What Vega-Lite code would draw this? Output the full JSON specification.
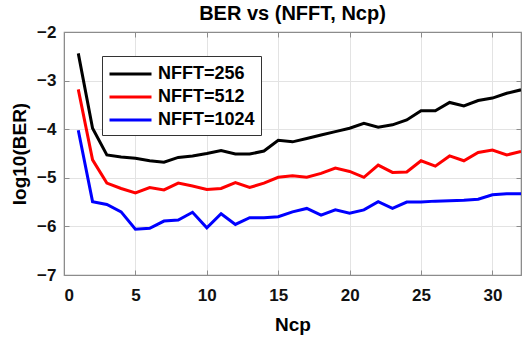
{
  "$schema": "https://vega.github.io/schema/vega-lite/v6.json",
  "width": 457,
  "height": 243,
  "autosize": "none",
  "padding": {"left": 64, "top": 32, "right": 8, "bottom": 66},
  "background": "white",
  "title": {
    "text": "BER vs (NFFT, Ncp)",
    "font": "Liberation Sans",
    "fontSize": 20,
    "fontWeight": "bold",
    "color": "black",
    "offset": -1
  },
  "config": {
    "view": {"stroke": "#8c8c8c", "strokeWidth": 1.2},
    "axis": {
      "labelFont": "Liberation Sans",
      "labelFontSize": 17,
      "labelFontWeight": "bold",
      "labelColor": "#111",
      "titleFont": "Liberation Sans",
      "titleFontSize": 19,
      "titleFontWeight": "bold",
      "titleColor": "black",
      "domainColor": "#8c8c8c",
      "tickColor": "#8c8c8c",
      "gridColor": "#e3e3e3",
      "tickSize": -5
    }
  },
  "data": {
    "values": [
      {"Ncp": 1, "s": "NFFT=256", "v": -2.44}, {"Ncp": 2, "s": "NFFT=256", "v": -3.98}, {"Ncp": 3, "s": "NFFT=256", "v": -4.53}, {"Ncp": 4, "s": "NFFT=256", "v": -4.57},
      {"Ncp": 5, "s": "NFFT=256", "v": -4.6}, {"Ncp": 6, "s": "NFFT=256", "v": -4.65}, {"Ncp": 7, "s": "NFFT=256", "v": -4.68}, {"Ncp": 8, "s": "NFFT=256", "v": -4.58},
      {"Ncp": 9, "s": "NFFT=256", "v": -4.55}, {"Ncp": 10, "s": "NFFT=256", "v": -4.5}, {"Ncp": 11, "s": "NFFT=256", "v": -4.44}, {"Ncp": 12, "s": "NFFT=256", "v": -4.51},
      {"Ncp": 13, "s": "NFFT=256", "v": -4.51}, {"Ncp": 14, "s": "NFFT=256", "v": -4.45}, {"Ncp": 15, "s": "NFFT=256", "v": -4.23}, {"Ncp": 16, "s": "NFFT=256", "v": -4.26},
      {"Ncp": 17, "s": "NFFT=256", "v": -4.19}, {"Ncp": 18, "s": "NFFT=256", "v": -4.12}, {"Ncp": 19, "s": "NFFT=256", "v": -4.05}, {"Ncp": 20, "s": "NFFT=256", "v": -3.98},
      {"Ncp": 21, "s": "NFFT=256", "v": -3.88}, {"Ncp": 22, "s": "NFFT=256", "v": -3.96}, {"Ncp": 23, "s": "NFFT=256", "v": -3.91}, {"Ncp": 24, "s": "NFFT=256", "v": -3.81},
      {"Ncp": 25, "s": "NFFT=256", "v": -3.62}, {"Ncp": 26, "s": "NFFT=256", "v": -3.62}, {"Ncp": 27, "s": "NFFT=256", "v": -3.45}, {"Ncp": 28, "s": "NFFT=256", "v": -3.52},
      {"Ncp": 29, "s": "NFFT=256", "v": -3.41}, {"Ncp": 30, "s": "NFFT=256", "v": -3.36}, {"Ncp": 31, "s": "NFFT=256", "v": -3.26}, {"Ncp": 32, "s": "NFFT=256", "v": -3.19},

      {"Ncp": 1, "s": "NFFT=512", "v": -3.18}, {"Ncp": 2, "s": "NFFT=512", "v": -4.63}, {"Ncp": 3, "s": "NFFT=512", "v": -5.11}, {"Ncp": 4, "s": "NFFT=512", "v": -5.22},
      {"Ncp": 5, "s": "NFFT=512", "v": -5.31}, {"Ncp": 6, "s": "NFFT=512", "v": -5.2}, {"Ncp": 7, "s": "NFFT=512", "v": -5.25}, {"Ncp": 8, "s": "NFFT=512", "v": -5.11},
      {"Ncp": 9, "s": "NFFT=512", "v": -5.17}, {"Ncp": 10, "s": "NFFT=512", "v": -5.24}, {"Ncp": 11, "s": "NFFT=512", "v": -5.22}, {"Ncp": 12, "s": "NFFT=512", "v": -5.1},
      {"Ncp": 13, "s": "NFFT=512", "v": -5.2}, {"Ncp": 14, "s": "NFFT=512", "v": -5.11}, {"Ncp": 15, "s": "NFFT=512", "v": -4.99}, {"Ncp": 16, "s": "NFFT=512", "v": -4.96},
      {"Ncp": 17, "s": "NFFT=512", "v": -4.99}, {"Ncp": 18, "s": "NFFT=512", "v": -4.91}, {"Ncp": 19, "s": "NFFT=512", "v": -4.8}, {"Ncp": 20, "s": "NFFT=512", "v": -4.87},
      {"Ncp": 21, "s": "NFFT=512", "v": -4.99}, {"Ncp": 22, "s": "NFFT=512", "v": -4.74}, {"Ncp": 23, "s": "NFFT=512", "v": -4.89}, {"Ncp": 24, "s": "NFFT=512", "v": -4.88},
      {"Ncp": 25, "s": "NFFT=512", "v": -4.65}, {"Ncp": 26, "s": "NFFT=512", "v": -4.76}, {"Ncp": 27, "s": "NFFT=512", "v": -4.55}, {"Ncp": 28, "s": "NFFT=512", "v": -4.65},
      {"Ncp": 29, "s": "NFFT=512", "v": -4.48}, {"Ncp": 30, "s": "NFFT=512", "v": -4.43}, {"Ncp": 31, "s": "NFFT=512", "v": -4.53}, {"Ncp": 32, "s": "NFFT=512", "v": -4.46},

      {"Ncp": 1, "s": "NFFT=1024", "v": -4.02}, {"Ncp": 2, "s": "NFFT=1024", "v": -5.49}, {"Ncp": 3, "s": "NFFT=1024", "v": -5.55}, {"Ncp": 4, "s": "NFFT=1024", "v": -5.7},
      {"Ncp": 5, "s": "NFFT=1024", "v": -6.06}, {"Ncp": 6, "s": "NFFT=1024", "v": -6.04}, {"Ncp": 7, "s": "NFFT=1024", "v": -5.89}, {"Ncp": 8, "s": "NFFT=1024", "v": -5.87},
      {"Ncp": 9, "s": "NFFT=1024", "v": -5.71}, {"Ncp": 10, "s": "NFFT=1024", "v": -6.03}, {"Ncp": 11, "s": "NFFT=1024", "v": -5.74}, {"Ncp": 12, "s": "NFFT=1024", "v": -5.96},
      {"Ncp": 13, "s": "NFFT=1024", "v": -5.82}, {"Ncp": 14, "s": "NFFT=1024", "v": -5.82}, {"Ncp": 15, "s": "NFFT=1024", "v": -5.8}, {"Ncp": 16, "s": "NFFT=1024", "v": -5.7},
      {"Ncp": 17, "s": "NFFT=1024", "v": -5.63}, {"Ncp": 18, "s": "NFFT=1024", "v": -5.77}, {"Ncp": 19, "s": "NFFT=1024", "v": -5.66}, {"Ncp": 20, "s": "NFFT=1024", "v": -5.73},
      {"Ncp": 21, "s": "NFFT=1024", "v": -5.66}, {"Ncp": 22, "s": "NFFT=1024", "v": -5.49}, {"Ncp": 23, "s": "NFFT=1024", "v": -5.63}, {"Ncp": 24, "s": "NFFT=1024", "v": -5.5},
      {"Ncp": 25, "s": "NFFT=1024", "v": -5.5}, {"Ncp": 26, "s": "NFFT=1024", "v": -5.48}, {"Ncp": 27, "s": "NFFT=1024", "v": -5.47}, {"Ncp": 28, "s": "NFFT=1024", "v": -5.46},
      {"Ncp": 29, "s": "NFFT=1024", "v": -5.44}, {"Ncp": 30, "s": "NFFT=1024", "v": -5.35}, {"Ncp": 31, "s": "NFFT=1024", "v": -5.33}, {"Ncp": 32, "s": "NFFT=1024", "v": -5.33}
    ]
  },
  "resolve": {"axis": {"x": "independent", "y": "independent"}},
  "layer": [
    {
      "mark": {"type": "line", "strokeWidth": 3, "clip": true},
      "encoding": {
        "x": {
          "field": "Ncp", "type": "quantitative",
          "scale": {"domain": [0, 32], "nice": false, "zero": false},
          "axis": {"title": "Ncp", "values": [0, 5, 10, 15, 20, 25, 30], "labelPadding": 17, "titlePadding": 12, "grid": true}
        },
        "y": {
          "field": "v", "type": "quantitative",
          "scale": {"domain": [-7, -2], "nice": false, "zero": false},
          "axis": {"title": "log10(BER)", "values": [-7, -6, -5, -4, -3, -2], "labelPadding": 13, "titlePadding": 7, "grid": true}
        },
        "color": {
          "field": "s", "type": "nominal",
          "scale": {"domain": ["NFFT=256", "NFFT=512", "NFFT=1024"], "range": ["#000000", "#ff0000", "#0000ff"]},
          "legend": {
            "title": null,
            "orient": "none",
            "legendX": 38,
            "legendY": 24,
            "direction": "vertical",
            "symbolType": "M-1,0H3",
            "symbolSize": 441,
            "symbolStrokeWidth": 3,
            "labelFont": "Liberation Sans",
            "labelFontSize": 18,
            "labelFontWeight": "bold",
            "labelColor": "black",
            "labelOffset": 26,
            "rowPadding": 2,
            "strokeColor": "#333",
            "fillColor": "white",
            "padding": 6
          }
        }
      }
    },
    {
      "mark": {"type": "line", "opacity": 0},
      "encoding": {
        "x": {
          "field": "Ncp", "type": "quantitative",
          "scale": {"domain": [0, 32], "nice": false, "zero": false},
          "axis": {"orient": "top", "title": null, "labels": false, "values": [0, 5, 10, 15, 20, 25, 30], "grid": false}
        },
        "y": {
          "field": "v", "type": "quantitative",
          "scale": {"domain": [-7, -2], "nice": false, "zero": false},
          "axis": {"orient": "right", "title": null, "labels": false, "values": [-7, -6, -5, -4, -3, -2], "grid": false}
        }
      }
    }
  ]
}
